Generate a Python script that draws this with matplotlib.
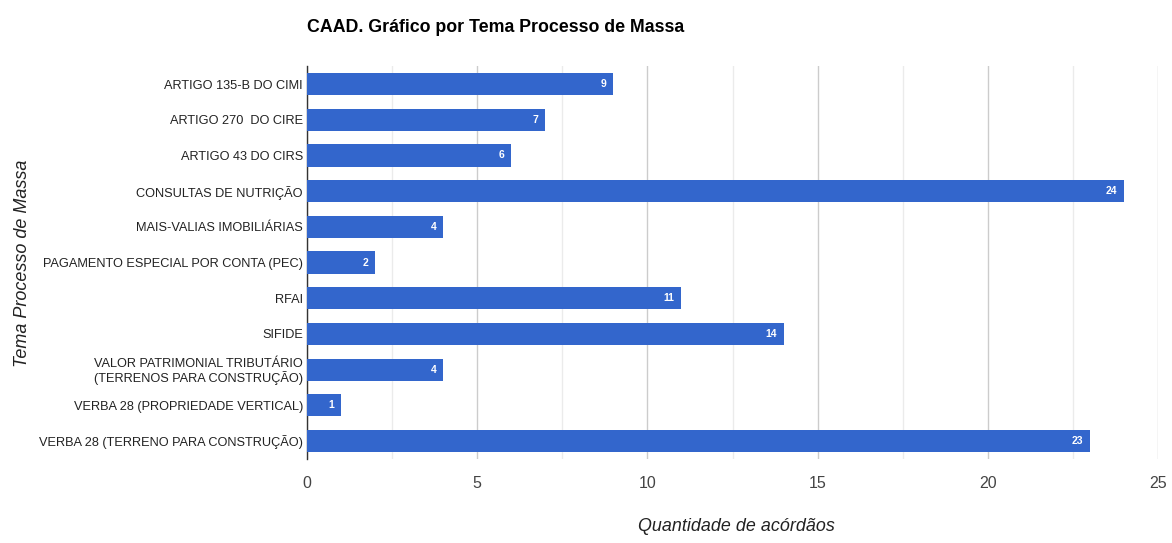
import matplotlib.pyplot as plt
from matplotlib.ticker import MultipleLocator

plt.rcParams['font.family'] = ['Liberation Sans', 'DejaVu Sans']

# Categories and counts, top to bottom as shown in the chart
temas = [
    'ARTIGO 135-B DO CIMI',
    'ARTIGO 270  DO CIRE',
    'ARTIGO 43 DO CIRS',
    'CONSULTAS DE NUTRIÇÃO',
    'MAIS-VALIAS IMOBILIÁRIAS',
    'PAGAMENTO ESPECIAL POR CONTA (PEC)',
    'RFAI',
    'SIFIDE',
    'VALOR PATRIMONIAL TRIBUTÁRIO\n(TERRENOS PARA CONSTRUÇÃO)',
    'VERBA 28 (PROPRIEDADE VERTICAL)',
    'VERBA 28 (TERRENO PARA CONSTRUÇÃO)',
]
quantidades = [9, 7, 6, 24, 4, 2, 11, 14, 4, 1, 23]

fig = plt.figure(figsize=(11.72, 5.43), dpi=100)
ax = fig.add_axes([0.262, 0.155, 0.726, 0.723])

pos = list(range(len(temas)))
ax.barh(pos, quantidades, height=0.62, color='#3366cc', zorder=3)

# value labels inside the bar end
for y, v in zip(pos, quantidades):
    ax.text(v - 0.2, y, str(v), ha='right', va='center', color='white',
            fontsize=7.5, fontweight='bold', zorder=4)

ax.set_ylim(len(temas) - 0.5, -0.5)
ax.set_xlim(0, 25)
ax.set_yticks(pos)
ax.set_yticklabels(temas, fontsize=9.2, color='#222222', linespacing=1.05)
ax.tick_params(axis='y', length=0, pad=3)

ax.xaxis.set_major_locator(MultipleLocator(5))
ax.xaxis.set_minor_locator(MultipleLocator(2.5))
ax.tick_params(axis='x', which='both', length=0, labelsize=11.5, labelcolor='#444444', pad=12)
ax.grid(axis='x', which='major', color='#cccccc', linewidth=1, zorder=0)
ax.grid(axis='x', which='minor', color='#ebebeb', linewidth=1, zorder=0)

for s in ['top', 'right', 'bottom']:
    ax.spines[s].set_visible(False)
ax.spines['left'].set_color('#333333')
ax.spines['left'].set_linewidth(1)

fig.text(0.262, 0.95, 'CAAD. Gráfico por Tema Processo de Massa', fontsize=12.8,
         fontweight='bold', color='#000000', ha='left', va='center')
fig.text(0.628, 0.015, 'Quantidade de acórdãos', fontsize=12.9, style='italic',
         color='#222222', ha='center', va='bottom')
fig.text(0.012, 0.515, 'Tema Processo de Massa', fontsize=13, style='italic',
         color='#222222', rotation=90, ha='left', va='center')

fig.savefig('out.png', dpi=100)
